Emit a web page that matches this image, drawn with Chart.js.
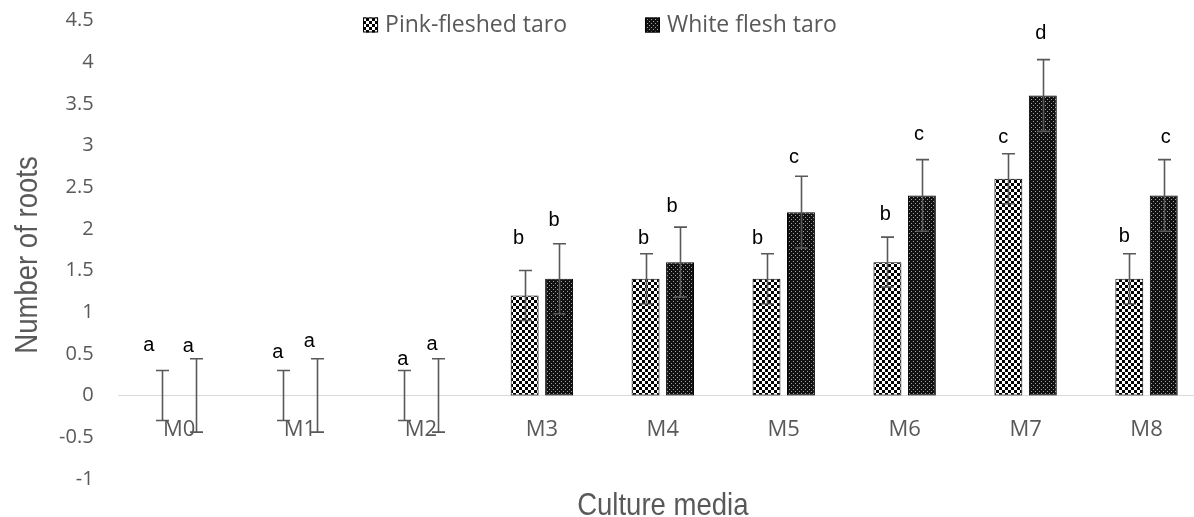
<!DOCTYPE html>
<html>
<head>
<meta charset="utf-8">
<script src="https://cdn.jsdelivr.net/npm/chart.js@4/dist/chart.umd.min.js"></script>
<style>
  html, body { margin: 0; padding: 0; background: #fff; overflow: hidden; }
  #wrap { position: absolute; left: 0; top: 0; width: 1207px; height: 517px; }
</style>
</head>
<body>
<div id="wrap"><canvas id="chart" width="1207" height="517"></canvas></div>
<script>
// Culture media and mean root counts (± error) for the two taro types
const categories = ['M0', 'M1', 'M2', 'M3', 'M4', 'M5', 'M6', 'M7', 'M8'];
const pinkMeans   = [0, 0, 0, 1.2, 1.4, 1.4, 1.6, 2.6, 1.4];
const pinkErrors  = [0.3, 0.3, 0.3, 0.3, 0.3, 0.3, 0.3, 0.3, 0.3];
const whiteMeans  = [0, 0, 0, 1.4, 1.6, 2.2, 2.4, 3.6, 2.4];
const whiteErrors = [0.44, 0.44, 0.44, 0.42, 0.42, 0.43, 0.43, 0.43, 0.43];
const pinkLetters  = ['a', 'a', 'a', 'b', 'b', 'b', 'b', 'c', 'b'];
const whiteLetters = ['a', 'a', 'a', 'b', 'b', 'c', 'c', 'd', 'c'];
const yTickMin = -1, yTickMax = 4.5, yTickStep = 0.5;
const xTitle = 'Culture media';
const yTitle = 'Number of roots';

const GREY = '#595959';
const SANS = '"Open Sans", "Noto Sans", sans-serif';
const TITLE_FONT = '32px "Liberation Sans", Arial, sans-serif';

// Fill patterns: black/white checkerboard and dense dotted black
function checkerPattern() {
  const c = document.createElement('canvas'); c.width = 6; c.height = 6;
  const g = c.getContext('2d');
  g.fillStyle = '#fff'; g.fillRect(0, 0, 6, 6);
  g.fillStyle = '#000'; g.fillRect(0, 0, 3, 3); g.fillRect(3, 3, 3, 3);
  return g.createPattern(c, 'repeat');
}
function dotPattern() {
  const c = document.createElement('canvas'); c.width = 4; c.height = 4;
  const g = c.getContext('2d');
  g.fillStyle = '#111'; g.fillRect(0, 0, 4, 4);
  g.fillStyle = '#a0a0a0'; g.fillRect(1, 1, 1, 1); g.fillRect(3, 3, 1, 1);
  return g.createPattern(c, 'repeat');
}
const pinkFill = checkerPattern();
const whiteFill = dotPattern();

// Error bars with caps plus significance letters above them
const errorBarPlugin = {
  id: 'errorBars',
  afterDatasetsDraw(chart, args, opts) {
    const ctx = chart.ctx;
    const y = chart.scales.y;
    chart.data.datasets.forEach((ds, i) => {
      const meta = chart.getDatasetMeta(i);
      const nudges = opts.nudges[i];
      meta.data.forEach((bar, j) => {
        const v = ds.data[j], e = ds.errors[j];
        const yt = y.getPixelForValue(v + e);
        const yb = y.getPixelForValue(v - e);
        const x = Math.round(bar.x) + 0.5;
        ctx.save();
        ctx.strokeStyle = GREY;
        ctx.lineWidth = 1.6;
        ctx.beginPath();
        ctx.moveTo(x, yt); ctx.lineTo(x, yb);
        ctx.moveTo(x - 6.5, yt); ctx.lineTo(x + 6.5, yt);
        ctx.moveTo(x - 6.5, yb); ctx.lineTo(x + 6.5, yb);
        ctx.stroke();
        const [dx, dy] = nudges[j];
        ctx.fillStyle = '#000';
        ctx.font = '20px "Liberation Sans", Arial, sans-serif';
        ctx.textAlign = 'center';
        ctx.textBaseline = 'middle';
        ctx.fillText(ds.letters[j], bar.x + dx, yt + dy);
        ctx.restore();
      });
    });
  }
};

// Legend drawn inside the plot, near the top
const insideLegend = {
  id: 'insideLegend',
  afterDraw(chart, args, opts) {
    const ctx = chart.ctx;
    ctx.save();
    ctx.font = '23px ' + SANS;
    const items = chart.data.datasets.map(ds => ({ label: ds.label, fill: ds.backgroundColor, w: ctx.measureText(ds.label).width }));
    const box = 15, gap = 7, spacing = 78;
    const total = items.reduce((s, it) => s + box + gap + it.w, 0) + spacing * (items.length - 1);
    let x = opts.centerX - total / 2;
    const yc = opts.y;
    items.forEach(it => {
      ctx.fillStyle = it.fill;
      ctx.fillRect(x, yc - box / 2, box, box);
      ctx.strokeStyle = '#000'; ctx.lineWidth = 1;
      ctx.strokeRect(x + 0.5, yc - box / 2 + 0.5, box - 1, box - 1);
      ctx.fillStyle = GREY;
      ctx.textAlign = 'left'; ctx.textBaseline = 'middle';
      ctx.fillText(it.label, x + box + gap, yc);
      x += box + gap + it.w + spacing;
    });
    ctx.restore();
  }
};

// Condensed axis titles
const axisTitles = {
  id: 'axisTitles',
  afterDraw(chart, args, opts) {
    const ctx = chart.ctx;
    const area = chart.chartArea;
    ctx.save();
    ctx.font = TITLE_FONT;
    ctx.fillStyle = GREY;
    ctx.textAlign = 'center';
    ctx.textBaseline = 'alphabetic';
    // x title, centred under the plot
    ctx.save();
    ctx.translate((area.left + area.right) / 2, opts.xBaseline);
    ctx.scale(opts.squeeze, 1);
    ctx.fillText(xTitle, 0, 0);
    ctx.restore();
    // y title, rotated
    ctx.save();
    ctx.translate(opts.yBaseline, opts.yCenter);
    ctx.rotate(-Math.PI / 2);
    ctx.scale(opts.squeeze, 1);
    ctx.fillText(yTitle, 0, 0);
    ctx.restore();
    ctx.restore();
  }
};

const zeroBorder = ctx => (ctx.raw === 0 ? 0 : 1);

new Chart(document.getElementById('chart'), {
  type: 'bar',
  data: {
    labels: categories,
    datasets: [
      { label: 'Pink-fleshed taro', data: pinkMeans, errors: pinkErrors, letters: pinkLetters,
        backgroundColor: pinkFill, borderColor: '#000', borderWidth: zeroBorder, borderSkipped: false,
        categoryPercentage: 0.57, barPercentage: 0.81 },
      { label: 'White flesh taro', data: whiteMeans, errors: whiteErrors, letters: whiteLetters,
        backgroundColor: whiteFill, borderColor: '#000', borderWidth: zeroBorder, borderSkipped: false,
        categoryPercentage: 0.57, barPercentage: 0.81 }
    ]
  },
  options: {
    responsive: false,
    animation: false,
    layout: { padding: { top: 20.5, left: 0, right: 0, bottom: 38.2 } },
    scales: {
      x: {
        axis: 'x',
        position: { y: 0 },
        grid: { display: false, drawTicks: false },
        border: { display: true, color: '#d9d9d9', width: 1 },
        ticks: { color: GREY, font: { family: SANS, size: 22 }, padding: 21.5 },
        afterFit: s => { s.paddingTop = 0; s.paddingBottom = 0; }
      },
      y: {
        min: yTickMin, max: yTickMax,
        grid: { display: false, drawTicks: false },
        border: { display: false },
        ticks: { stepSize: yTickStep, color: GREY, font: { family: SANS, size: 20 }, padding: 25,
                 callback: v => String(v) },
        afterFit: s => { s.width = 118.6; s.paddingTop = 0; s.paddingBottom = 0; }
      }
    },
    plugins: {
      legend: { display: false },
      tooltip: { enabled: false },
      insideLegend: { centerX: 600, y: 25 },
      axisTitles: { squeeze: 0.86, xBaseline: 514.5, yBaseline: 37, yCenter: 255 },
      errorBars: {
        nudges: [
          [[-13, -25], [-5, -18], [-1, -11], [-6, -32], [-2, -15], [-9, -15], [-2, -23], [-5, -16], [-5, -17]],
          [[-8, -12], [-8, -17], [-6, -14], [-5, -23], [-8, -21], [-7, -19], [-3, -25], [-2, -26], [2, -22]]
        ]
      }
    }
  },
  plugins: [errorBarPlugin, insideLegend, axisTitles]
});
</script>
</body>
</html>
